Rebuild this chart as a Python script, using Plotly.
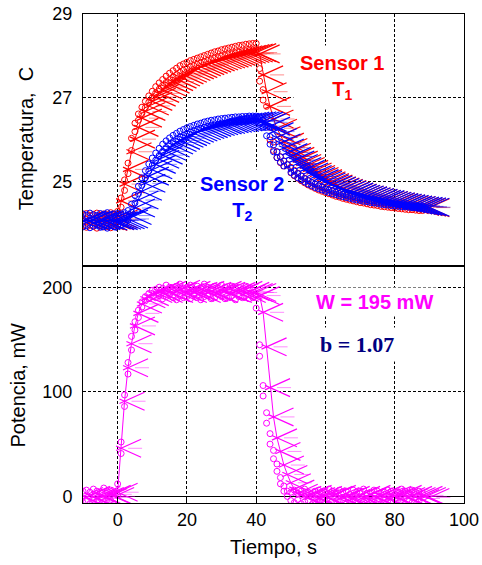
import plotly.graph_objects as go

# ---------------- data ----------------
t_circ = list(range(-10, 89))   # circle samples, s
t_x = list(range(-10, 91))      # cross samples, s

T1_a = [24.22, 24.25, 24.2, 24.23, 24.26, 24.21, 24.24, 24.22, 24.27, 24.23,
        24.3, 24.62, 25.05, 25.45, 26.04, 26.4, 26.62, 26.78, 26.92, 27.05,
        27.16, 27.27, 27.36, 27.44, 27.52, 27.59, 27.65, 27.71, 27.77, 27.81,
        27.85, 27.89, 27.92, 27.95, 27.98, 28.01, 28.04, 28.07, 28.1, 28.12,
        28.15, 28.17, 28.19, 28.21, 28.23, 28.25, 28.26, 28.28, 28.29, 28.3,
        28.3, 27.7, 27.2, 26.8, 26.3, 25.95, 25.72, 25.6, 25.5, 25.42,
        25.35, 25.28, 25.21, 25.15, 25.09, 25.04, 24.99, 24.95, 24.91, 24.87,
        24.84, 24.81, 24.78, 24.75, 24.72, 24.7, 24.67, 24.65, 24.63, 24.61,
        24.59, 24.57, 24.56, 24.54, 24.52, 24.51, 24.5, 24.48, 24.47, 24.46,
        24.45, 24.44, 24.43, 24.42, 24.41, 24.4, 24.39, 24.39, 24.38]
T1_b = [23.95, 23.92, 23.97, 23.94, 23.9, 23.96, 23.93, 23.95, 23.91, 23.94,
        24.05, 24.4, 24.8, 25.2, 25.75, 26.2, 26.47, 26.63, 26.77, 26.9,
        27.01, 27.12, 27.21, 27.3, 27.37, 27.44, 27.5, 27.56, 27.61, 27.66,
        27.7, 27.74, 27.77, 27.8, 27.83, 27.86, 27.89, 27.91, 27.94, 27.96,
        27.99, 28.01, 28.03, 28.05, 28.07, 28.09, 28.1, 28.12, 28.13, 28.14,
        28.1, 27.4, 26.95, 26.55, 26.0, 25.75, 25.58, 25.46, 25.37, 25.3,
        25.22, 25.15, 25.09, 25.03, 24.98, 24.93, 24.89, 24.85, 24.81, 24.78,
        24.75, 24.72, 24.69, 24.66, 24.64, 24.61, 24.59, 24.57, 24.55, 24.53,
        24.51, 24.5, 24.48, 24.46, 24.45, 24.44, 24.42, 24.41, 24.4, 24.39,
        24.38, 24.37, 24.36, 24.35, 24.34, 24.34, 24.33, 24.32, 24.32]
T2_a = [24.24, 24.21, 24.26, 24.22, 24.2, 24.25, 24.23, 24.27, 24.21, 24.24,
        24.25, 24.24, 24.27, 24.32, 24.47, 24.68, 24.9, 25.1, 25.27, 25.43,
        25.57, 25.69, 25.8, 25.9, 25.98, 26.05, 26.11, 26.16, 26.21, 26.25,
        26.29, 26.32, 26.35, 26.38, 26.4, 26.43, 26.45, 26.47, 26.48, 26.5,
        26.51, 26.52, 26.53, 26.54, 26.55, 26.55, 26.56, 26.56, 26.57, 26.57,
        26.57, 26.55, 26.48, 26.3, 26.08, 25.88, 25.72, 25.6, 25.5, 25.41,
        25.33, 25.26, 25.2, 25.14, 25.08, 25.03, 24.99, 24.95, 24.91, 24.88,
        24.84, 24.81, 24.79, 24.76, 24.73, 24.71, 24.69, 24.67, 24.65, 24.63,
        24.61, 24.6, 24.58, 24.56, 24.55, 24.54, 24.52, 24.51, 24.5, 24.49,
        24.48, 24.47, 24.46, 24.45, 24.44, 24.43, 24.43, 24.42, 24.42]
T2_b = [23.93, 23.96, 23.91, 23.95, 23.97, 23.92, 23.94, 23.9, 23.96, 23.93,
        23.95, 23.97, 24.0, 24.1, 24.28, 24.5, 24.72, 24.92, 25.1, 25.26,
        25.4, 25.52, 25.63, 25.73, 25.82, 25.9, 25.96, 26.02, 26.07, 26.11,
        26.15, 26.19, 26.22, 26.25, 26.28, 26.3, 26.32, 26.34, 26.36, 26.37,
        26.39, 26.4, 26.41, 26.42, 26.43, 26.43, 26.44, 26.44, 26.45, 26.45,
        26.44, 26.4, 26.3, 26.1, 25.9, 25.72, 25.58, 25.47, 25.38, 25.3,
        25.23, 25.16, 25.1, 25.05, 25.0, 24.95, 24.91, 24.87, 24.84, 24.81,
        24.78, 24.75, 24.72, 24.7, 24.67, 24.65, 24.63, 24.61, 24.59, 24.57,
        24.56, 24.54, 24.53, 24.51, 24.5, 24.49, 24.47, 24.46, 24.45, 24.44,
        24.43, 24.42, 24.41, 24.41, 24.4, 24.39, 24.39, 24.38, 24.38]
T1_x = [24.08, 24.1, 24.06, 24.09, 24.07, 24.1, 24.08, 24.06, 24.09, 24.08,
        24.12, 24.55, 24.95, 25.3, 25.72, 26.02, 26.3, 26.52, 26.68, 26.81,
        26.92, 27.02, 27.11, 27.19, 27.26, 27.33, 27.39, 27.45, 27.5, 27.55,
        27.59, 27.63, 27.67, 27.7, 27.74, 27.77, 27.8, 27.83, 27.86, 27.88,
        27.91, 27.93, 27.95, 27.97, 27.99, 28.01, 28.03, 28.04, 28.06, 28.07,
        28.08, 28.05, 27.55, 27.15, 26.8, 26.5, 26.28, 26.1, 25.95, 25.82,
        25.71, 25.61, 25.52, 25.44, 25.37, 25.3, 25.24, 25.18, 25.13, 25.08,
        25.03, 24.99, 24.95, 24.91, 24.88, 24.85, 24.82, 24.79, 24.76, 24.74,
        24.71, 24.69, 24.67, 24.65, 24.63, 24.61, 24.59, 24.57, 24.56, 24.54,
        24.52, 24.51, 24.49, 24.48, 24.46, 24.45, 24.44, 24.42, 24.41, 24.4,
        24.39]
T2_x = [24.07, 24.09, 24.08, 24.1, 24.06, 24.08, 24.09, 24.07, 24.1, 24.08,
        24.08, 24.09, 24.1, 24.12, 24.2, 24.38, 24.57, 24.78, 24.97, 25.14,
        25.29, 25.42, 25.54, 25.64, 25.73, 25.81, 25.88, 25.94, 25.99, 26.04,
        26.08, 26.12, 26.16, 26.19, 26.22, 26.25, 26.27, 26.3, 26.32, 26.34,
        26.36, 26.37, 26.39, 26.4, 26.41, 26.42, 26.43, 26.44, 26.45, 26.45,
        26.46, 26.46, 26.45, 26.42, 26.33, 26.2, 26.06, 25.93, 25.81, 25.7,
        25.61, 25.52, 25.44, 25.37, 25.3, 25.24, 25.18, 25.13, 25.08, 25.04,
        25.0, 24.96, 24.93, 24.9, 24.87, 24.84, 24.81, 24.78, 24.76, 24.73,
        24.71, 24.69, 24.67, 24.65, 24.63, 24.61, 24.59, 24.58, 24.56, 24.54,
        24.53, 24.51, 24.5, 24.48, 24.47, 24.45, 24.44, 24.43, 24.42, 24.41,
        24.4]

P_a = [5, 6, 4, 7, 5, 4, 8, 5, 6, 4,
       12, 52, 97, 128, 153, 167, 178, 186, 191, 194, 197,
       198, 200, 199, 202, 200, 198, 201, 203, 199, 200, 202, 198, 201, 199, 203,
       200, 198, 201, 199, 202, 200, 197, 201, 199, 200, 198, 201, 199, 197,
       192, 145, 106, 80, 60, 44, 31, 18, 10, 5,
       4, 6, 3, 5, 7, 4, 2, 5, 6, 3, 4, 7, 5, 3, 6, 4, 5, 2, 6, 4,
       5, 7, 3, 4, 6, 5, 3, 4, 6, 5, 2, 4, 7, 5, 3, 6, 4, 5, 3]
P_b = [-6, -5, -7, -4, -6, -8, -5, -6, -4, -7,
       1, 41, 86, 117, 140, 159, 171, 181, 187, 189, 191,
       190, 192, 189, 191, 193, 190, 188, 192, 190, 191, 189, 193, 190, 188, 191,
       192, 189, 190, 193, 191, 189, 190, 192, 188, 191, 190, 192, 189, 190,
       180, 134, 96, 70, 50, 36, 24, 12, 5, 0,
       -4, -6, -3, -7, -5, -4, -8, -5, -6, -3, -5, -7, -4, -6, -5, -3, -7, -5, -4, -6,
       -8, -5, -4, -6, -3, -5, -7, -4, -6, -5, -3, -6, -4, -7, -5, -6, -4, -5, -6]
P_x = [0, -1, 1, 0, -2, 1, 0, -1, 2, 0,
       4, 46, 91, 123, 146, 163, 175, 184, 189, 191, 194,
       195, 196, 194, 197, 195, 194, 196, 198, 195, 194, 197, 195, 196, 194, 197,
       195, 196, 195, 194, 197, 196, 195, 194, 196, 195, 197, 194, 196, 195,
       195, 192, 176, 143, 104, 76, 56, 43, 30, 21, 13, 7, 3,
       1, 0, -1, 2, 0, -2, 1, 0, -1, 1, 2, 0, -1, 0, 1, -2, 0, 1, -1, 0,
       2, 0, -1, 1, 0, -2, 1, 0, -1, 2, 0, -1, 1, 0, -2, 1, 0, -1]

x_ticks = [0, 20, 40, 60, 80, 100]
T_ticks = [25, 27, 29]
P_ticks = [0, 100, 200]

RED, BLUE, MAG = "#FF0000", "#0000FF", "#FF00FF"
PALE = {RED: "rgba(255,0,0,0.45)", BLUE: "rgba(0,0,255,0.45)", MAG: "rgba(255,0,255,0.45)"}
FONT = "Liberation Sans, Arial, sans-serif"

fig = go.Figure()


def circles(x, y, color, xa, ya):
    fig.add_trace(go.Scatter(x=x, y=y, mode="markers", xaxis=xa, yaxis=ya,
                             marker=dict(symbol="circle-open", size=6, color=color,
                                         line=dict(width=1, color=color)),
                             showlegend=False, hoverinfo="skip"))


def crosses(x, y, color, xa, ya):
    fig.add_trace(go.Scatter(x=x, y=y, mode="lines", xaxis=xa, yaxis=ya,
                             line=dict(color=color, width=1),
                             showlegend=False, hoverinfo="skip"))
    for ang in (-114.2, -65.8):
        fig.add_trace(go.Scatter(x=x, y=y, mode="markers", xaxis=xa, yaxis=ya,
                                 marker=dict(symbol="line-ns", angle=ang, standoff=8.2,
                                             size=19.6, color=color,
                                             line=dict(width=1.2, color=color)),
                                 showlegend=False, hoverinfo="skip"))
    fig.add_trace(go.Scatter(x=x, y=y, mode="markers", xaxis=xa, yaxis=ya,
                             marker=dict(symbol="line-ns", angle=-90, standoff=14,
                                         size=10, color=PALE[color],
                                         line=dict(width=1, color=PALE[color])),
                             showlegend=False, hoverinfo="skip"))


circles(t_circ, T1_a, RED, "x", "y")
circles(t_circ, T1_b, RED, "x", "y")
crosses(t_x, T1_x, RED, "x", "y")
circles(t_circ, T2_a, BLUE, "x", "y")
circles(t_circ, T2_b, BLUE, "x", "y")
crosses(t_x, T2_x, BLUE, "x", "y")

circles(t_circ, P_a, MAG, "x2", "y2")
circles(t_circ, P_b, MAG, "x2", "y2")
crosses(t_x, P_x, MAG, "x2", "y2")

SPLIT = 0.4847
grid = dict(showgrid=True, gridcolor="black", gridwidth=1, griddash="3px,2px",
            showline=True, linecolor="black", linewidth=1, mirror=True,
            automargin=False, ticklabeloverflow="allow",
            tickfont=dict(family=FONT, size=18, color="black"))

fig.update_layout(
    width=482, height=565,
    margin=dict(l=83, r=18, t=14, b=62),
    paper_bgcolor="white", plot_bgcolor="white",
    showlegend=False,
    xaxis=dict(domain=[0, 1], anchor="y", range=[-10, 100], tickvals=x_ticks[:-1],
               showticklabels=False, ticks="outside", ticklen=4, tickcolor="black",
               zeroline=False, **grid),
    yaxis=dict(domain=[SPLIT, 1], anchor="x", range=[23, 29], tickvals=T_ticks,
               ticks="", ticklabelstandoff=6, zeroline=False, **grid),
    xaxis2=dict(domain=[0, 1], anchor="y2", range=[-10, 100], tickvals=x_ticks,
                ticks="inside", ticklen=6, tickcolor="black", zeroline=False, **grid),
    yaxis2=dict(domain=[0, SPLIT], anchor="x2", range=[-6.3, 220.3], tickvals=P_ticks,
                ticks="", ticklabelstandoff=6, zeroline=True, zerolinecolor="black",
                zerolinewidth=1, **grid),
)

ann = []
ann.append(dict(text="Sensor 1<br>T<sub>1</sub>", x=64.9, y=27.5, xref="x", yref="y",
                font=dict(family=FONT, size=20, color=RED, weight="bold"),
                bgcolor="white", borderpad=6, showarrow=False))
ann.append(dict(text="Sensor 2<br>T<sub>2</sub>", x=35.8, y=24.6, xref="x", yref="y",
                font=dict(family=FONT, size=20, color=BLUE, weight="bold"),
                bgcolor="white", borderpad=3, showarrow=False))
ann.append(dict(text="W = 195 mW", x=74.2, y=186, xref="x2", yref="y2",
                font=dict(family=FONT, size=20, color=MAG, weight="bold"),
                bgcolor="white", borderpad=3, showarrow=False))
ann.append(dict(text="b = 1.07", x=69.0, y=145, xref="x2", yref="y2",
                font=dict(family="Liberation Serif, Times New Roman, serif", size=22,
                          color="#000080", weight="bold"),
                bgcolor="white", borderpad=4, showarrow=False))
ann.append(dict(text="Temperatura,  C", x=-0.1496, y=0.744, xref="paper", yref="paper",
                xanchor="center", yanchor="middle",
                textangle=-90, font=dict(family=FONT, size=20, color="black"),
                showarrow=False))
ann.append(dict(text="Potencia, mW", x=-0.1719, y=0.2413, xref="paper", yref="paper",
                xanchor="center", yanchor="middle",
                textangle=-90, font=dict(family=FONT, size=20, color="black"),
                showarrow=False))
ann.append(dict(text="Tiempo, s", x=0.4987, y=-0.09, xref="paper", yref="paper",
                xanchor="center", yanchor="middle",
                font=dict(family=FONT, size=20, color="black"), showarrow=False))
fig.update_layout(annotations=ann)

fig.write_html("out.html", config={"displayModeBar": False},
               post_script="document.body.style.margin='0px';")
